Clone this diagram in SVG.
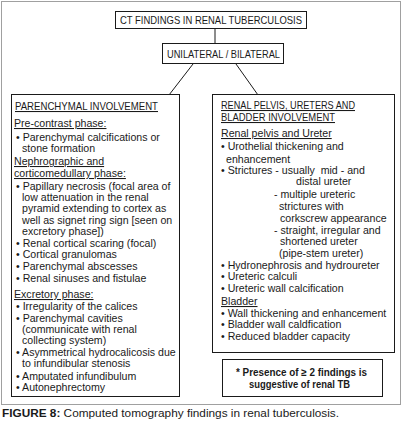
<svg xmlns="http://www.w3.org/2000/svg" width="403" height="426" viewBox="0 0 403 426">
<style>
.box{fill:#fff;stroke:#1a1a1a;stroke-width:1}
.frame{fill:#fff;stroke:#a0a0a0;stroke-width:1}
text{font-family:"Liberation Sans",Arial,sans-serif;font-size:10.6px;fill:#1a1a1a}
.h{text-decoration:underline}
.b{font-weight:bold}
.c{text-anchor:middle}
.conn{stroke:#1a1a1a;stroke-width:1;fill:none}
</style>
<rect class="frame" x="1.5" y="1.5" width="399" height="403"/>
<g id="connectors">
<line class="conn" x1="215" y1="29" x2="215" y2="43"/>
<line class="conn" x1="193" y1="64" x2="169" y2="95"/>
<line class="conn" x1="236" y1="64" x2="258" y2="95"/>
</g>
<g id="title">
<rect class="box" x="115.5" y="11.5" width="191" height="17"/>
<text x="120" y="24" textLength="182" lengthAdjust="spacingAndGlyphs">CT FINDINGS IN RENAL TUBERCULOSIS</text>
</g>
<g id="lateral">
<rect class="box" x="162.5" y="43.5" width="121" height="20"/>
<text x="167" y="58" textLength="113" lengthAdjust="spacingAndGlyphs">UNILATERAL / BILATERAL</text>
</g>
<g id="parenchymal">
<rect class="box" x="11.5" y="94.5" width="168" height="302"/>
<text class="h" x="15" y="110" textLength="143" lengthAdjust="spacingAndGlyphs">PARENCHYMAL INVOLVEMENT</text>
<text class="h" x="14" y="127">Pre-contrast phase:</text>
<text x="16" y="141">• Parenchymal calcifications or</text>
<text x="22" y="152">stone formation</text>
<text class="h" x="14" y="165">Nephrographic and</text>
<text class="h" x="14" y="177">corticomedullary phase:</text>
<text x="16" y="190">• Papillary necrosis (focal area of</text>
<text x="22" y="201">low attenuation in the renal</text>
<text x="22" y="212">pyramid extending to cortex as</text>
<text x="22" y="224">well as signet ring sign [seen on</text>
<text x="22" y="235">excretory phase])</text>
<text x="16" y="247">• Renal cortical scaring (focal)</text>
<text x="16" y="258">• Cortical granulomas</text>
<text x="16" y="270">• Parenchymal abscesses</text>
<text x="16" y="282">• Renal sinuses and fistulae</text>
<text class="h" x="14" y="298">Excretory phase:</text>
<text x="16" y="310">• Irregularity of the calices</text>
<text x="16" y="322">• Parenchymal cavities</text>
<text x="22" y="333">(communicate with renal</text>
<text x="22" y="344">collecting system)</text>
<text x="16" y="356">• Asymmetrical hydrocalicosis due</text>
<text x="22" y="367">to infundibular stenosis</text>
<text x="16" y="380">• Amputated infundibulum</text>
<text x="16" y="391">• Autonephrectomy</text>
</g>
<g id="pelvis">
<rect class="box" x="212.5" y="94.5" width="182" height="258"/>
<text class="h" x="221" y="109" textLength="134" lengthAdjust="spacingAndGlyphs">RENAL PELVIS, URETERS AND</text>
<text class="h" x="221" y="121" textLength="114" lengthAdjust="spacingAndGlyphs">BLADDER INVOLVEMENT</text>
<text class="h" x="221" y="137">Renal pelvis and Ureter</text>
<text x="221" y="150">• Urothelial thickening and</text>
<text x="226" y="163">enhancement</text>
<text x="221" y="174" xml:space="preserve">• Strictures - usually  mid - and</text>
<text x="296" y="185">distal ureter</text>
<text x="274" y="198">- multiple ureteric</text>
<text x="279" y="210">strictures with</text>
<text x="280" y="222">corkscrew appearance</text>
<text x="274" y="234">- straight, irregular and</text>
<text x="280" y="245">shortened ureter</text>
<text x="279" y="257">(pipe-stem ureter)</text>
<text x="221" y="269">• Hydronephrosis and hydroureter</text>
<text x="221" y="280">• Ureteric calculi</text>
<text x="221" y="292">• Ureteric wall calcification</text>
<text class="h" x="221" y="305">Bladder</text>
<text x="221" y="317">• Wall thickening and enhancement</text>
<text x="221" y="328">• Bladder wall caldfication</text>
<text x="221" y="340">• Reduced bladder capacity</text>
</g>
<g id="note">
<rect class="box" x="222.5" y="359.5" width="160" height="37"/>
<text class="b" x="236" y="376" textLength="131" lengthAdjust="spacingAndGlyphs">* Presence of ≥ 2 findings is</text>
<text class="b" x="249" y="388" textLength="101" lengthAdjust="spacingAndGlyphs">suggestive of renal TB</text>
</g>
<text x="2" y="417" style="font-size:11.8px"><tspan class="b">FIGURE 8:</tspan> Computed tomography findings in renal tuberculosis.</text>
</svg>
